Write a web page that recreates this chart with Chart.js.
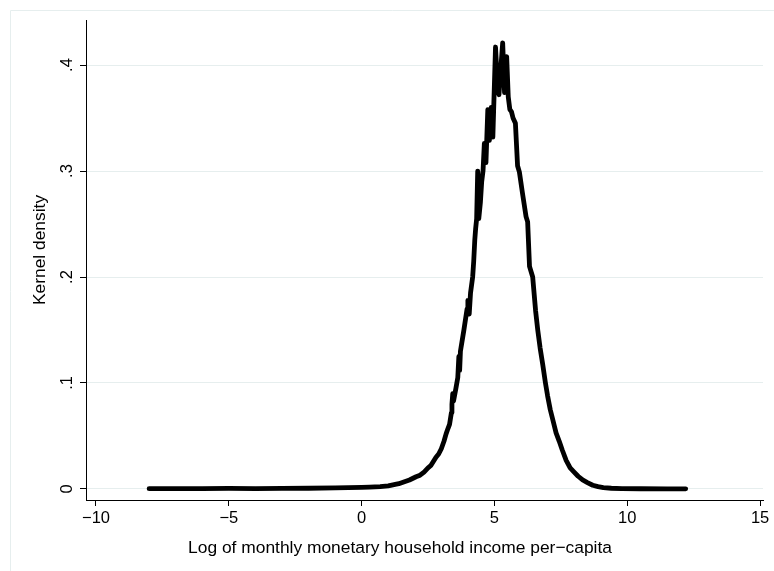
<!DOCTYPE html>
<html>
<head>
<meta charset="utf-8">
<script src="https://cdn.jsdelivr.net/npm/chart.js@4/dist/chart.umd.min.js"></script>
<style>
html,body{margin:0;padding:0;background:#fff;}
#wrap{width:774px;height:571px;position:relative;}
</style>
</head>
<body>
<div id="wrap"><canvas id="c" width="774" height="571"></canvas></div>
<script>
// Kernel density estimate
const incomeLog = [
  -8.0, -7.0, -6.0, -5.0, -4.0, -3.0, -2.0, -1.0, -0.5, 0.0, 0.3, 0.7, 1.0, 1.4, 1.8, 2.05, 2.2, 2.35,
  2.5, 2.6, 2.7, 2.8, 2.9, 3.0, 3.1, 3.18, 3.25, 3.31, 3.38, 3.40, 3.43, 3.46, 3.55, 3.62, 3.66, 3.69,
  3.72, 3.85, 3.97, 4.0, 4.05, 4.10, 4.18, 4.22, 4.26, 4.29, 4.33, 4.37, 4.41, 4.47, 4.52, 4.57, 4.62,
  4.68, 4.75, 4.81, 4.88, 4.94, 5.04, 5.12, 5.17, 5.31, 5.38, 5.46, 5.52, 5.58, 5.64, 5.70, 5.79, 5.87, 5.94,
  6.05, 6.19, 6.25, 6.32, 6.44, 6.55, 6.63, 6.72, 6.82, 6.92, 7.0, 7.1, 7.19, 7.32, 7.44, 7.55, 7.70,
  7.85, 8.0, 8.15, 8.32, 8.5, 8.7, 8.9, 9.1, 9.4, 9.8, 10.5, 11.5, 12.2
];
const density = [
  0.0003, 0.0003, 0.0004, 0.0005, 0.0004, 0.0005, 0.0007, 0.0010, 0.0012, 0.0015, 0.0018, 0.0022, 0.003, 0.0050, 0.0085, 0.0115, 0.013, 0.016,
  0.020, 0.022, 0.026, 0.030, 0.033, 0.038, 0.045, 0.052, 0.057, 0.061, 0.072, 0.080, 0.090, 0.083, 0.095, 0.105, 0.125, 0.112,
  0.130, 0.150, 0.170, 0.178, 0.165, 0.185, 0.200, 0.215, 0.235, 0.245, 0.255, 0.300, 0.255, 0.270, 0.290, 0.300, 0.326,
  0.308, 0.358, 0.329, 0.360, 0.332, 0.417, 0.380, 0.372, 0.421, 0.374, 0.408, 0.370, 0.358, 0.356, 0.350, 0.345, 0.305, 0.299,
  0.280, 0.257, 0.252, 0.210, 0.200, 0.168, 0.150, 0.133, 0.117, 0.100, 0.088, 0.075, 0.066, 0.053, 0.045, 0.037, 0.027,
  0.020, 0.016, 0.012, 0.0085, 0.0060, 0.0035, 0.0022, 0.0013, 0.0007, 0.0004, 0.0002, 0.0001, 0.0001
];
const xTickValues = [-10, -5, 0, 5, 10, 15];
const yTickValues = [0, 0.1, 0.2, 0.3, 0.4];
const xTitle = 'Log of monthly monetary household income per\u2212capita';
const yTitle = 'Kernel density';

const FONT = '"Liberation Sans", Arial, sans-serif';
const fmtX = v => (v < 0 ? '\u2212' + Math.abs(v) : String(v));
const fmtY = v => (v === 0 ? '0' : v.toFixed(1).replace(/^0/, ''));

const points = incomeLog.map((x, i) => ({x: x, y: density[i]}));

const decor = {
  id: 'decor',
  beforeDraw(chart) {
    const ctx = chart.ctx;
    ctx.save();
    ctx.strokeStyle = '#e6eeee';
    ctx.lineWidth = 1;
    ctx.beginPath();
    ctx.moveTo(10.5, 600);
    ctx.lineTo(10.5, 10.5);
    ctx.lineTo(800, 10.5);
    ctx.stroke();
    ctx.restore();
  },
  afterDraw(chart) {
    const ctx = chart.ctx;
    const ys = chart.scales.y;
    ctx.save();
    ctx.fillStyle = '#000';
    ctx.font = '16.5px ' + FONT;
    ctx.textAlign = 'center';
    ctx.textBaseline = 'middle';
    yTickValues.forEach(v => {
      const py = ys.getPixelForValue(v);
      ctx.save();
      ctx.translate(67, py);
      ctx.rotate(-Math.PI / 2);
      ctx.fillText(fmtY(v), 0, 0);
      ctx.restore();
    });
    ctx.font = '17.4px ' + FONT;
    ctx.save();
    ctx.translate(40, 250);
    ctx.rotate(-Math.PI / 2);
    ctx.fillText(yTitle, 0, 0);
    ctx.restore();
    ctx.fillText(xTitle, 400, 548);
    ctx.restore();
  }
};

new Chart(document.getElementById('c'), {
  type: 'scatter',
  data: {
    datasets: [{
      data: points,
      showLine: true,
      borderColor: '#000',
      borderWidth: 4.8,
      borderJoinStyle: 'round',
      borderCapStyle: 'round',
      pointRadius: 0,
      tension: 0,
      fill: false
    }]
  },
  options: {
    responsive: false,
    animation: false,
    events: [],
    layout: {padding: {left: 0, top: 20, right: 11, bottom: 0}},
    plugins: {legend: {display: false}, tooltip: {enabled: false}},
    scales: {
      x: {
        type: 'linear',
        min: -10.376,
        max: 15.11,
        afterBuildTicks: s => { s.ticks = xTickValues.map(v => ({value: v})); },
        afterFit: s => { s.height = 71; },
        grid: {drawOnChartArea: false, drawTicks: true, tickLength: 6, tickColor: '#000'},
        border: {display: true, color: '#000', width: 1},
        ticks: {
          color: '#000',
          font: {family: FONT, size: 16.5},
          padding: 3,
          maxRotation: 0,
          minRotation: 0,
          autoSkip: false,
          callback: v => fmtX(v)
        }
      },
      y: {
        type: 'linear',
        min: -0.0104,
        max: 0.4425,
        afterBuildTicks: s => { s.ticks = yTickValues.map(v => ({value: v})); },
        afterFit: s => { s.width = 86; },
        grid: {color: '#e6eeee', lineWidth: 1, drawTicks: true, tickLength: 6, tickColor: '#000'},
        border: {display: true, color: '#000', width: 1},
        ticks: {display: false}
      }
    }
  },
  plugins: [decor]
});
</script>
</body>
</html>
